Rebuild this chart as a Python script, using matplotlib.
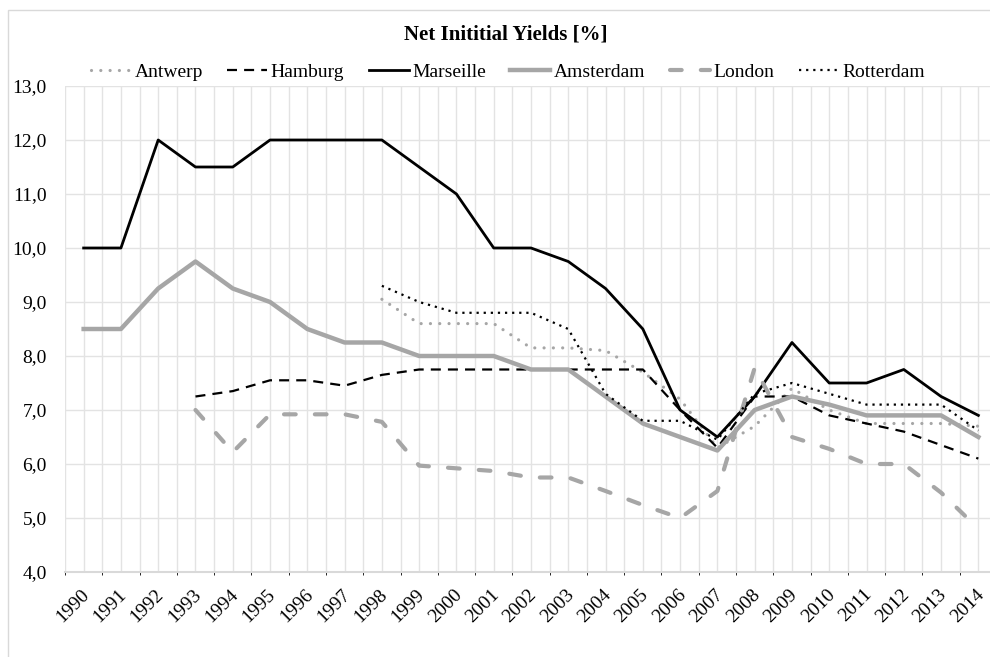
import matplotlib.pyplot as plt
import matplotlib.transforms as mtransforms
from matplotlib.patches import Rectangle
import numpy as np

plt.rcParams['font.family'] = ['Liberation Serif', 'DejaVu Serif']

years = list(range(1990, 2015))
nan = np.nan

antwerp = [nan] * 8 + [9.05, 8.6, 8.6, 8.6, 8.15, 8.15, 8.1, 7.7, 7.2, 6.3,
                       6.7, 7.4, 7.0, 6.75, 6.75, 6.75, 6.7]
hamburg = [nan] * 3 + [7.25, 7.35, 7.55, 7.55, 7.45, 7.65, 7.75, 7.75, 7.75, 7.75,
                       7.75, 7.75, 7.75, 7.0, 6.3, 7.25, 7.25, 6.9, 6.75, 6.6,
                       6.35, 6.1]
marseille = [10.0, 10.0, 12.0, 11.5, 11.5, 12.0, 12.0, 12.0, 12.0, 11.5, 11.0,
             10.0, 10.0, 9.75, 9.25, 8.5, 7.0, 6.5, 7.25, 8.25, 7.5, 7.5, 7.75,
             7.25, 6.9]
amsterdam = [8.5, 8.5, 9.25, 9.75, 9.25, 9.0, 8.5, 8.25, 8.25, 8.0, 8.0, 8.0,
             7.75, 7.75, 7.25, 6.75, 6.5, 6.25, 7.0, 7.25, 7.1, 6.9, 6.9, 6.9,
             6.5]
london = [nan] * 3 + [7.0, 6.22, 6.92, 6.92, 6.92, 6.78, 5.97, 5.92, 5.87, 5.75,
                      5.75, 5.5, 5.24, 5.0, 5.5, 7.78, 6.5, 6.28, 6.0, 6.0,
                      5.47, 4.8]
rotterdam = [nan] * 8 + [9.3, 9.0, 8.8, 8.8, 8.8, 8.5, 7.3, 6.8, 6.8, 6.45,
                         7.3, 7.5, 7.3, 7.1, 7.1, 7.1, 6.62]

grey = '#a6a6a6'
grid_col = '#e3e3e3'

fig = plt.figure(figsize=(9.9, 6.57), dpi=100)

# chart frame (right and bottom edges fall outside the picture)
fig.patches.append(Rectangle((8 / 990, -0.1), 1.1, 1 - 10 / 657 + 0.1,
                             transform=fig.transFigure, fill=False,
                             edgecolor='#d9d9d9', lw=1))

ax = fig.add_axes([65 / 990, 85 / 657, 932 / 990, 486 / 657])
x = np.arange(len(years))

ax.plot(x, antwerp, color=grey, lw=2.3, linestyle=(0, (0.01, 2.9)),
        dash_capstyle='round', label='Antwerp')
ax.plot(x, hamburg, color='black', lw=1.6, linestyle=(0, (4.5, 3.2)),
        label='Hamburg')
ax.plot(x, marseille, color='black', lw=2.0, label='Marseille')
ax.plot(x, amsterdam, color=grey, lw=3.2, label='Amsterdam')
ax.plot(x, london, color=grey, lw=3.0, linestyle=(0, (2.8, 4.6)),
        dash_capstyle='round', label='London')
ax.plot(x, rotterdam, color='black', lw=1.6, linestyle=(0, (1, 2.2)),
        label='Rotterdam')

ax.set_xlim(-0.5, len(years) - 0.5)
ax.set_ylim(4, 13)
ax.set_yticks(np.arange(4, 13.5, 1))
ax.set_yticklabels([f'{v:.1f}'.replace('.', ',') for v in np.arange(4, 13.5, 1)],
                   fontsize=14)
ax.set_xticks(x)
ax.set_xticklabels([str(y) for y in years], rotation=45, ha='right',
                   va='top', fontsize=14)
ax.set_xticks(np.arange(-0.5, len(years), 1), minor=True)
ax.tick_params(axis='both', length=0)
ax.tick_params(axis='y', pad=13)
ax.tick_params(axis='x', pad=10)

# nudge the rotated year labels to the right, as in the original
shift = mtransforms.ScaledTranslation(0.09, 0, fig.dpi_scale_trans)
for lbl in ax.get_xticklabels():
    lbl.set_transform(lbl.get_transform() + shift)

ax.grid(True, which='both', axis='x', color=grid_col, lw=1)
ax.grid(True, which='major', axis='y', color=grid_col, lw=1)
ax.set_axisbelow(True)
for side in ['left', 'right', 'top']:
    ax.spines[side].set_visible(False)
ax.spines['bottom'].set_color('#d9d9d9')
ax.spines['bottom'].set_linewidth(1.5)

fig.text(506 / 990, 1 - 35 / 657, 'Net Inititial Yields [%]', ha='center',
         va='center', fontsize=15, fontweight='bold')

fig.legend(loc='center', bbox_to_anchor=(508 / 990, 1 - 72 / 657), ncol=6,
           frameon=False, fontsize=14, handlelength=2.05, handletextpad=0.2,
           columnspacing=1.25)

fig.savefig('out.png', dpi=100)
